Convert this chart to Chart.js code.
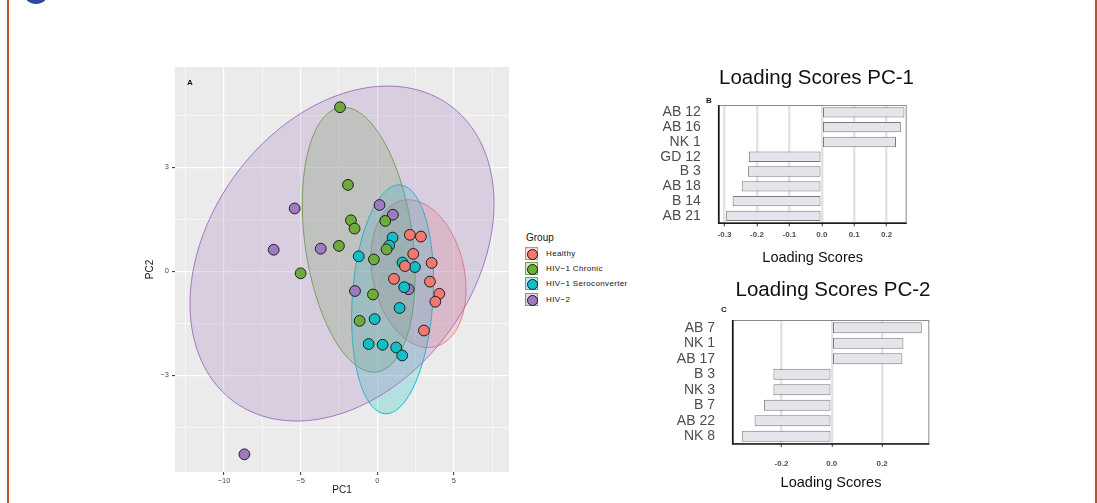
<!DOCTYPE html>
<html>
<head>
<meta charset="utf-8">
<script src="https://cdn.jsdelivr.net/npm/chart.js@4.4.1/dist/chart.umd.min.js"></script>
<style>
  html, body { margin: 0; padding: 0; background: #fff; }
  body { width: 1097px; height: 503px; position: relative; overflow: hidden; font-family: "Liberation Sans", Arial, sans-serif; }
  canvas { position: absolute; }
  .frame { position: absolute; top: 0; bottom: 0; width: 2px; background: #b5582c; }
  .badge { position: absolute; left: 23px; top: -22px; width: 26px; height: 26px; border-radius: 50%; background: #2b4a9c; }
  #legend { position: absolute; left: 525px; top: 231px; color: #111; }
  #legend .ttl { font-size: 10px; height: 16px; line-height: 14px; padding-left: 1px; }
  #legend .row { height: 15.2px; position: relative; }
  #legend .key { position: absolute; left: 0; top: 0; width: 13px; height: 13px; box-sizing: border-box; border: 1px solid; }
  #legend .dot { position: absolute; left: 1px; top: 1px; width: 9px; height: 9px; border-radius: 50%; border: 1px solid #1a1a1a; }
  #legend .lbl { position: absolute; left: 21px; top: 0; font-size: 8px; letter-spacing: 0.35px; line-height: 13px; white-space: nowrap; }
</style>
</head>
<body>
<div class="frame" style="left:7px"></div>
<div class="frame" style="left:1095px"></div>
<div class="badge"></div>

<canvas id="pca" width="379" height="443" style="left:130px; top:60px; width:379px; height:443px"></canvas>
<div id="legend"></div>
<canvas id="pc1" width="353" height="210" style="left:640px; top:60px; width:353px; height:210px"></canvas>
<canvas id="pc2" width="386" height="233" style="left:640px; top:270px; width:386px; height:233px"></canvas>

<script>
// --- PCA scores (PC1, PC2) per group ---
const groups = ["Healthy", "HIV−1 Chronic", "HIV−1 Seroconverter", "HIV−2"];
const groupColors = ["#f3796f", "#6dab3c", "#14bec6", "#9f79c1"];

const healthyPC1 = [2.13, 2.85, 2.35, 3.55, 1.81, 1.09, 3.44, 4.05, 3.79, 3.05];
const healthyPC2 = [1.05, 1.00, 0.50, 0.24, 0.15, -0.22, -0.30, -0.65, -0.88, -1.71];
const chronicPC1 = [-2.43, -1.91, -1.72, -1.48, 0.52, -2.50, -0.22, 0.61, -5.00, -0.28, -1.15];
const chronicPC2 = [4.73, 2.49, 1.47, 1.23, 1.45, 0.73, 0.34, 0.63, -0.06, -0.67, -1.43];
const seroPC1 = [-1.21, 1.00, 0.78, 1.65, 2.46, 1.76, 1.46, -0.17, -0.56, 0.35, 1.24, 1.63];
const seroPC2 = [0.43, 0.97, 0.74, 0.25, 0.12, -0.46, -1.06, -1.38, -2.10, -2.12, -2.20, -2.43];
const hiv2PC1 = [-5.39, 0.15, 1.02, -6.76, -3.69, -1.45, 2.05, -8.67];
const hiv2PC2 = [1.81, 1.91, 1.63, 0.62, 0.65, -0.57, -0.52, -5.28];

// confidence ellipse per group: centre, half extent along PC1 / PC2, correlation
const ellipseCX = [2.69, -1.21, 1.00, -2.30];
const ellipseCY = [-0.07, 0.91, -0.81, 0.51];
const ellipseRX = [3.10, 3.68, 2.67, 9.92];
const ellipseRY = [2.13, 3.82, 3.30, 4.83];
const ellipseRho = [-0.21, -0.27, 0.16, 0.30];

const pcaXTicks = [-12.5, -10, -7.5, -5, -2.5, 0, 2.5, 5, 7.5];
const pcaYTicks = [-4.5, -3, -1.5, 0, 1.5, 3, 4.5];

// --- loading scores ---
const pc1Labels = ["AB 12", "AB 16", "NK 1", "GD 12", "B 3", "AB 18", "B 14", "AB 21"];
const pc1Scores = [0.255, 0.244, 0.229, -0.225, -0.228, -0.247, -0.275, -0.295];
const pc1Ticks = [-0.3, -0.2, -0.1, 0, 0.1, 0.2];

const pc2Labels = ["AB 7", "NK 1", "AB 17", "B 3", "NK 3", "B 7", "AB 22", "NK 8"];
const pc2Scores = [0.358, 0.285, 0.281, -0.232, -0.232, -0.270, -0.307, -0.358];
const pc2Ticks = [-0.2, 0, 0.2];

Chart.defaults.font.family = '"Liberation Sans", Arial, sans-serif';
Chart.defaults.animation = false;

function hexA(hex, a) {
  const n = parseInt(hex.slice(1), 16);
  return `rgba(${n >> 16}, ${(n >> 8) & 255}, ${n & 255}, ${a})`;
}
const minusSign = v => String(v).replace("-", "\u2212");
const toPoints = (xs, ys) => xs.map((v, i) => ({ x: v, y: ys[i] }));

// grey panel behind the scatter
const panelBg = {
  id: "panelBg",
  beforeDraw(chart) {
    const { ctx, chartArea: a } = chart;
    ctx.save();
    ctx.fillStyle = "#ebebeb";
    ctx.fillRect(a.left, a.top, a.width, a.height);
    ctx.restore();
  }
};

// group ellipses, drawn through the chart scales
const groupEllipses = {
  id: "groupEllipses",
  beforeDatasetsDraw(chart) {
    const { ctx, chartArea: a, scales: { x, y } } = chart;
    ctx.save();
    ctx.beginPath();
    ctx.rect(a.left, a.top, a.width, a.height);
    ctx.clip();
    groups.forEach((g, i) => {
      const k = Math.sqrt(1 - ellipseRho[i] * ellipseRho[i]);
      ctx.beginPath();
      for (let s = 0; s <= 160; s++) {
        const t = s / 160 * Math.PI * 2;
        const px = x.getPixelForValue(ellipseCX[i] + ellipseRX[i] * Math.cos(t));
        const py = y.getPixelForValue(ellipseCY[i] + ellipseRY[i] * (ellipseRho[i] * Math.cos(t) + k * Math.sin(t)));
        if (s === 0) ctx.moveTo(px, py); else ctx.lineTo(px, py);
      }
      ctx.closePath();
      ctx.fillStyle = hexA(groupColors[i], 0.25);
      ctx.fill();
      ctx.strokeStyle = groupColors[i];
      ctx.lineWidth = 1;
      ctx.stroke();
    });
    ctx.restore();
  }
};

// small bold panel letter (A / B / C)
const panelTag = {
  id: "panelTag",
  afterDraw(chart, args, opts) {
    if (!opts.text) return;
    const { ctx, chartArea: a } = chart;
    ctx.save();
    ctx.font = "bold 8px " + Chart.defaults.font.family;
    ctx.fillStyle = "#111";
    ctx.textAlign = "center";
    ctx.textBaseline = "middle";
    ctx.fillText(opts.text, a.left + opts.dx, a.top + opts.dy);
    ctx.restore();
  }
};

// box around the loading-score panels
const panelFrame = {
  id: "panelFrame",
  afterDatasetsDraw(chart, args, opts) {
    if (!opts.on) return;
    const { ctx, chartArea: a } = chart;
    ctx.save();
    ctx.strokeStyle = "#8a8a8a";
    ctx.lineWidth = 1;
    ctx.strokeRect(a.left + 0.5, a.top + 0.5, a.width - 1, a.height - 1);
    ctx.strokeStyle = "#1a1a1a";
    ctx.lineWidth = 1.6;
    ctx.beginPath();
    ctx.moveTo(a.left, a.top);
    ctx.lineTo(a.left, a.bottom);
    ctx.lineTo(a.right, a.bottom);
    ctx.stroke();
    ctx.restore();
  }
};

Chart.register(panelTag, panelFrame);

// ---------- PCA scatter ----------
const pcaSeries = [[healthyPC1, healthyPC2], [chronicPC1, chronicPC2], [seroPC1, seroPC2], [hiv2PC1, hiv2PC2]];
const isMajor = (v, step) => Math.abs(v / step - Math.round(v / step)) < 1e-6;

new Chart(document.getElementById("pca"), {
  type: "scatter",
  data: {
    datasets: groups.map((g, i) => ({
      label: g,
      data: toPoints(pcaSeries[i][0], pcaSeries[i][1]),
      backgroundColor: groupColors[i],
      borderColor: "#1f1f1f",
      borderWidth: 1,
      pointRadius: 5.4
    }))
  },
  options: {
    responsive: false,
    layout: { autoPadding: false, padding: { top: 7, right: 0, bottom: 0, left: 0 } },
    plugins: {
      legend: { display: false },
      tooltip: { enabled: false },
      panelTag: { text: "A", dx: 15, dy: 16 }
    },
    scales: {
      x: {
        type: "linear",
        min: -13.2,
        max: 8.6,
        afterBuildTicks: s => { s.ticks = pcaXTicks.map(v => ({ value: v })); },
        afterFit: s => { s.height = 31; s.paddingLeft = 0; s.paddingRight = 0; },
        border: { display: false },
        grid: {
          color: "#ffffff",
          lineWidth: c => (c.tick && isMajor(c.tick.value, 5) ? 1.2 : 0.55),
          tickLength: 3,
          tickWidth: 1,
          tickColor: c => (c.tick && isMajor(c.tick.value, 5) ? "#333333" : "rgba(0,0,0,0)")
        },
        ticks: {
          padding: 1,
          color: "#4d4d4d",
          font: { size: 7.5 },
          callback: v => (isMajor(v, 5) ? minusSign(v) : "")
        },
        title: { display: true, text: "PC1", color: "#1a1a1a", font: { size: 10 }, padding: { top: 0, bottom: 7 } }
      },
      y: {
        type: "linear",
        min: -5.79,
        max: 5.89,
        afterBuildTicks: s => { s.ticks = pcaYTicks.map(v => ({ value: v })); },
        afterFit: s => { s.width = 45; s.paddingTop = 0; s.paddingBottom = 0; },
        border: { display: false },
        grid: {
          color: "#ffffff",
          lineWidth: c => (c.tick && isMajor(c.tick.value, 3) ? 1.2 : 0.55),
          tickLength: 3,
          tickWidth: 1,
          tickColor: c => (c.tick && isMajor(c.tick.value, 3) ? "#333333" : "rgba(0,0,0,0)")
        },
        ticks: {
          padding: 3,
          color: "#4d4d4d",
          font: { size: 7.5 },
          callback: v => (isMajor(v, 3) ? minusSign(v) : "")
        },
        title: { display: true, text: "PC2", color: "#1a1a1a", font: { size: 10 }, padding: { top: 14, bottom: 0 } }
      }
    }
  },
  plugins: [panelBg, groupEllipses]
});

// legend, built from the group arrays
const legendEl = document.getElementById("legend");
legendEl.innerHTML = '<div class="ttl">Group</div>' + groups.map((g, i) =>
  `<div class="row"><div class="key" style="border-color:${groupColors[i]};background:${hexA(groupColors[i], 0.3)}">` +
  `<div class="dot" style="background:${groupColors[i]}"></div></div><div class="lbl">${g}</div></div>`
).join("");

// ---------- loading score bars ----------
function loadingChart(id, title, labels, scores, ticks, box) {
  return new Chart(document.getElementById(id), {
    type: "bar",
    data: {
      labels: labels,
      datasets: [{
        label: title,
        data: scores,
        backgroundColor: "#e4e4ea",
        borderColor: "#7a7a7a",
        borderWidth: 1,
        borderSkipped: false,
        categoryPercentage: 1,
        barPercentage: 0.7
      }]
    },
    options: {
      responsive: false,
      indexAxis: "y",
      layout: { padding: 0 },
      plugins: {
        legend: { display: false },
        tooltip: { enabled: false },
        title: {
          display: true,
          text: title,
          color: "#111111",
          font: { size: 20.5, weight: "normal" },
          padding: { top: box.titleTop, bottom: box.titleBottom }
        },
        panelTag: { text: box.tag, dx: box.tagDx, dy: box.tagDy },
        panelFrame: { on: true }
      },
      scales: {
        x: {
          type: "linear",
          min: box.min,
          max: box.max,
          afterBuildTicks: s => { s.ticks = ticks.map(v => ({ value: v })); },
          afterFit: s => { s.height = box.xHeight; s.paddingLeft = 0; s.paddingRight = 0; },
          border: { display: false },
          grid: { color: "#e3e3e3", lineWidth: 2.5, tickLength: 3, tickWidth: 1, tickColor: "#333333" },
          ticks: {
            padding: box.tickPad,
            color: "#4d4d4d",
            font: { size: 8, weight: "bold" },
            callback: v => v.toFixed(1)
          },
          title: { display: true, text: "Loading Scores", color: "#111111", font: { size: 14.5 }, padding: { top: 0, bottom: box.xTitlePad } }
        },
        y: {
          type: "category",
          afterFit: s => { s.width = box.yWidth; s.paddingTop = 0; s.paddingBottom = 0; },
          border: { display: false },
          grid: { display: false, drawTicks: false },
          ticks: { autoSkip: false, padding: box.labelPad, color: "#4d4d4d", font: { size: 14 } }
        },
        spacer: {
          type: "linear",
          position: "right",
          afterFit: s => { s.width = box.rightSpace; },
          border: { display: false },
          grid: { display: false, drawTicks: false },
          ticks: { display: false }
        }
      }
    }
  });
}

loadingChart("pc1", "Loading Scores PC-1", pc1Labels, pc1Scores, pc1Ticks, {
  min: -0.318, max: 0.262, titleTop: 5.7, titleBottom: 14.7, xHeight: 46.7, tickPad: 4, xTitlePad: 3.3,
  yWidth: 78.7, labelPad: 18, rightSpace: 86.3, tag: "B", tagDx: -9.7, tagDy: -4
});

loadingChart("pc2", "Loading Scores PC-2", pc2Labels, pc2Scores, pc2Ticks, {
  min: -0.394, max: 0.388, titleTop: 8.4, titleBottom: 17, xHeight: 59, tickPad: 11.5, xTitlePad: 11,
  yWidth: 92.7, labelPad: 17.7, rightSpace: 96.7, tag: "C", tagDx: -8.7, tagDy: -10
});
</script>
</body>
</html>
